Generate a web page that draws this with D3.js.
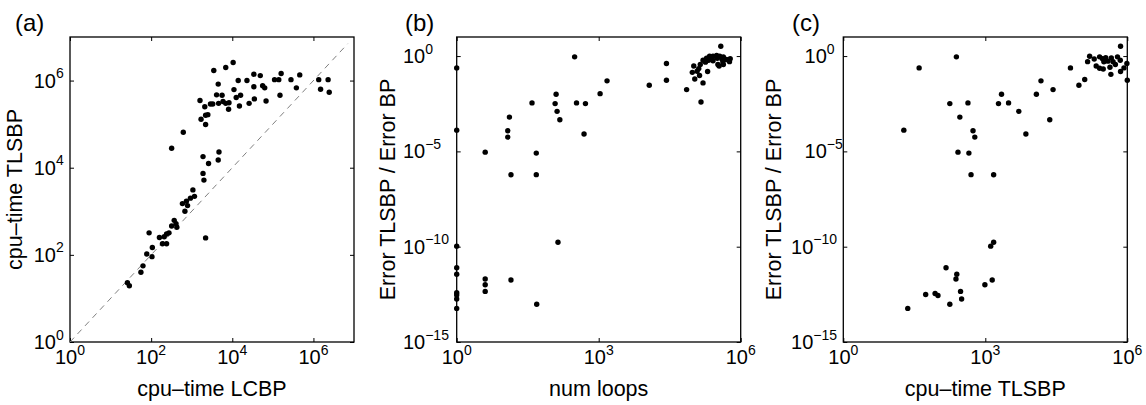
<!DOCTYPE html>
<html>
<head>
<meta charset="utf-8">
<script src="https://cdn.jsdelivr.net/npm/d3@7"></script>
<style>
  body { margin: 0; background: #fff; }
  text { font-family: "Liberation Sans", Arial, Helvetica, sans-serif; fill: #000; }
</style>
</head>
<body>
<div id="chart"></div>
<script>
const WIDTH  = 1146;
const HEIGHT = 405;
const TOP    = 37;
const BOTTOM = 342;

// (a) cpu-time LCBP vs cpu-time TLSBP
const lcbpTime = [3.5e3, 6.9e3, 1.05e4, 4.5e3, 1.4e4, 2.3e4, 3.4e4, 4.9e4, 1.1e4, 3.4e4,
  5.6e4, 6.3e4, 1.1e5, 1.4e5, 1.6e5, 2.8e5, 4.6e5, 3.8e5, 1.5e5, 1.35e6,
  2.3e6, 1.5e6, 2.45e6, 1.6e3, 2.1e3, 2.9e3, 3.3e3, 4.1e3, 4.6e3, 5.6e3,
  5.9e3, 6.9e3, 8.3e3, 8.1e3, 1.25e4, 1.6e4, 1.5e4, 2.6e4, 3.5e4, 6.8e4,
  1.7e3, 2.2e3, 2.5e3, 2.2e3, 620, 320, 1.9e3, 4.7e3, 4.5e3, 2.6e3,
  1.9e3, 2.0e3, 1.07e3, 1.17e3, 930, 740, 590, 790, 680, 370,
  410, 320, 430, 89, 160, 210, 240, 275, 190, 240,
  2.2e3, 107, 78, 105, 63, 56, 26, 29];
const tlsbpTimeA = [1.7e6, 2.0e6, 2.6e6, 8.3e5, 1.0e6, 1.0e6, 1.4e6, 1.3e6, 6.2e5, 7.2e5,
  7.6e5, 6.8e5, 1.05e6, 1.05e6, 1.45e6, 1.05e6, 1.35e6, 6.8e5, 4.6e5, 1.05e6,
  1.05e6, 6.3e5, 5.4e5, 3.5e5, 2.5e5, 2.9e5, 2.9e5, 4.7e5, 3.0e5, 4.6e5,
  3.3e5, 3.0e5, 3.1e5, 2.2e5, 4.1e5, 4.6e5, 2.6e5, 3.0e5, 3.8e5, 3.4e5,
  1.3e5, 1.6e5, 1.65e5, 9.8e4, 6.5e4, 2.8e4, 1.8e4, 2.3e4, 1.5e4, 1.25e4,
  7.4e3, 5.2e3, 3.1e3, 2.2e3, 2.0e3, 1.7e3, 1.5e3, 1.35e3, 1.0e3, 620,
  520, 460, 430, 320, 250, 260, 300, 320, 180, 180,
  245, 148, 105, 91, 56, 40, 23, 19.5];
const diagonal = [1, 7e6];

// (b) num loops vs error ratio
const numLoops = [1, 1, 4, 14, 48, 48, 12, 12, 13, 39,
  120, 126, 132, 151, 310, 340, 525, 490, 1070, 1500,
  1.17e4, 2.7e4, 2.7e4, 1, 1, 1, 1, 1, 1, 1,
  4, 4, 4, 14, 49, 138, 3.8e5, 7.2e4, 1.45e5, 1.07e5,
  1.2e5, 1.02e5, 1.3e5, 1.35e5, 1.6e5, 1.6e5, 1.9e5, 2.2e5, 2.6e5, 3.1e5,
  3.6e5, 4.3e5, 5.0e5, 5.8e5, 4.2e5, 3.5e5, 2.6e5, 2.1e5, 1.8e5, 1.4e5,
  3.3e5, 4.3e5, 9.5e4, 6.0e5, 2.0e5, 2.5e5, 3.2e5, 4.0e5];
const errRatioB = [0.24, 1.3e-4, 9.1e-6, 5.9e-7, 6.0e-7, 8.1e-6, 1.2e-4, 5.6e-5, 6.3e-4, 3.5e-3,
  3.2e-3, 1.0e-2, 1.26e-3, 4.6e-4, 0.91, 3.5e-3, 3.2e-3, 8.1e-5, 1.07e-2, 5.0e-2,
  2.95e-2, 0.41, 5.4e-2, 1.07e-10, 7.8e-12, 3.6e-12, 3.8e-13, 2.9e-13, 1.8e-13, 5.8e-14,
  2.0e-12, 1.0e-12, 4.5e-13, 1.8e-12, 9.5e-14, 1.7e-10, 3.3, 1.74e-2, 3.9e-3, 6.3e-2,
  0.16, 0.30, 0.22, 9.5e-2, 3.9e-2, 0.60, 0.78, 0.98, 0.98, 1.07,
  0.98, 0.91, 0.66, 0.51, 0.51, 0.30, 0.56, 0.60, 0.48, 0.36,
  0.36, 0.36, 0.14, 0.72, 0.155, 0.8, 0.76, 0.7];

// (c) cpu-time TLSBP vs error ratio
const tlsbpTimeC = [40, 245, 19, 178, 430, 290, 550, 600, 265, 450,
  500, 1500, 1900, 2200, 3100, 5100, 7200, 1.2e4, 1.5e4, 2.7e4,
  2.3e4, 6.3e4, 23, 55, 87, 100, 148, 178, 250, 240,
  300, 316, 980, 1300, 1500, 1400, 7.2e5, 9.5e4, 1.26e5, 1.6e5,
  1.45e5, 2.2e5, 2.6e5, 3.1e5, 2.6e5, 3.0e5, 3.5e5, 3.2e5, 4.3e5, 4.5e5,
  5.0e5, 6.2e5, 7.1e5, 7.2e5, 8.5e5, 9.8e5, 1.0e6, 5.6e5, 3.9e5, 2.0e5, 4.6e5];
const errRatioC = [0.24, 0.91, 1.3e-4, 3.2e-3, 3.5e-3, 6.3e-4, 1.2e-4, 5.6e-5, 9.1e-6, 8.1e-6,
  6.0e-7, 5.9e-7, 3.2e-3, 1.0e-2, 3.5e-3, 1.26e-3, 8.1e-5, 1.0e-2, 5.0e-2, 1.74e-2,
  4.6e-4, 0.24, 5.8e-14, 3.1e-13, 3.5e-13, 2.75e-13, 7.8e-12, 9.5e-14, 3.6e-12, 2.0e-12,
  4.5e-13, 1.8e-13, 1.0e-12, 1.07e-10, 1.7e-10, 1.8e-12, 3.3, 2.95e-2, 5.9e-2, 0.98,
  0.51, 0.30, 0.23, 0.21, 0.91, 0.72, 0.81, 0.50, 0.26, 0.11,
  0.50, 0.91, 0.60, 0.155, 0.24, 0.41, 5.4e-2, 0.36, 0.54, 0.7, 0.8];

const ticksTime  = [1, 1e2, 1e4, 1e6];
const ticksLoops = [1, 1e3, 1e6];
const ticksErr   = [1e-15, 1e-10, 1e-5, 1];

const svg = d3.select('#chart').append('svg')
  .attr('width', WIDTH)
  .attr('height', HEIGHT);

function expOf(v) {
  const e = Math.round(Math.log10(v));
  return e < 0 ? '\u2212' + (-e) : String(e);
}

function drawPanel(p) {
  const x = d3.scaleLog().domain(p.xDomain).range([p.left, p.right]);
  const y = d3.scaleLog().domain(p.yDomain).range([BOTTOM, TOP]);
  const g = svg.append('g');

  // tick marks, pointing inward on all four sides
  const sides = [
    [d3.axisBottom(x).tickValues(p.xTicks), 'translate(0,' + BOTTOM + ')'],
    [d3.axisTop(x).tickValues(p.xTicks), 'translate(0,' + TOP + ')'],
    [d3.axisLeft(y).tickValues(p.yTicks), 'translate(' + p.left + ',0)'],
    [d3.axisRight(y).tickValues(p.yTicks), 'translate(' + p.right + ',0)']
  ];
  sides.forEach(([ax, tr]) => {
    const a = g.append('g')
      .attr('transform', tr)
      .call(ax.tickSize(-4).tickFormat(''));
    a.select('.domain').remove();
    a.selectAll('line').attr('stroke', '#000');
  });

  g.append('rect')
    .attr('x', p.left).attr('y', TOP)
    .attr('width', p.right - p.left).attr('height', BOTTOM - TOP)
    .attr('fill', 'none').attr('stroke', '#000').attr('stroke-width', 1.3);

  if (p.diag) {
    g.append('line')
      .attr('x1', x(p.diag[0])).attr('y1', y(p.diag[0]))
      .attr('x2', x(p.diag[1])).attr('y2', y(p.diag[1]))
      .attr('stroke', '#808080').attr('stroke-width', 1)
      .attr('stroke-dasharray', '6,5');
  }

  g.selectAll('circle.pt')
    .data(p.xs.map((v, i) => [v, p.ys[i]]))
    .join('circle')
      .attr('class', 'pt')
      .attr('cx', d => x(d[0]))
      .attr('cy', d => y(d[1]))
      .attr('r', 2.7)
      .attr('fill', '#000');

  // x tick labels: 10 with superscript, centred on the tick
  p.xTicks.forEach(v => {
    const t = g.append('text')
      .attr('x', x(v)).attr('y', 364)
      .attr('text-anchor', 'middle')
      .style('font-size', '20px');
    t.append('tspan').text('10');
    t.append('tspan').attr('dy', -9).style('font-size', '14px').text(expOf(v));
  });

  // y tick labels
  p.yTicks.forEach(v => {
    const e = expOf(v);
    const bx = p.left - (e.length > 2 ? p.yOffLong : p.yOff);
    g.append('text')
      .attr('x', bx).attr('y', y(v) + 7)
      .attr('text-anchor', 'end')
      .style('font-size', '20px')
      .text('10');
    g.append('text')
      .attr('x', bx).attr('y', y(v) - 2.5)
      .style('font-size', '14px')
      .text(e);
  });

  g.append('text')
    .attr('x', (p.left + p.right) / 2).attr('y', 396)
    .attr('text-anchor', 'middle')
    .style('font-size', '21.5px')
    .text(p.xLabel);

  g.append('text')
    .attr('transform', 'translate(' + p.yLabelX + ',' + ((TOP + BOTTOM) / 2) + ') rotate(-90)')
    .attr('text-anchor', 'middle')
    .style('font-size', '21.5px')
    .text(p.yLabel);

  g.append('text')
    .attr('x', p.tagX).attr('y', 31)
    .style('font-size', '24px')
    .text(p.tag);
}

drawPanel({
  left: 70, right: 354,
  xDomain: [1, 1e7], yDomain: [1, 1e7],
  xTicks: ticksTime, yTicks: ticksTime,
  xs: lcbpTime, ys: tlsbpTimeA, diag: diagonal,
  xLabel: 'cpu\u2013time LCBP', yLabel: 'cpu\u2013time TLSBP',
  yLabelX: 22, yOff: 14, yOffLong: 14,
  tag: '(a)', tagX: 15
});

drawPanel({
  left: 456.7, right: 740.7,
  xDomain: [1, 1e6], yDomain: [1e-15, 10],
  xTicks: ticksLoops, yTicks: ticksErr,
  xs: numLoops, ys: errRatioB,
  xLabel: 'num loops', yLabel: 'Error TLSBP / Error BP',
  yLabelX: 395, yOff: 31.5, yOffLong: 31.5,
  tag: '(b)', tagX: 405
});

drawPanel({
  left: 843.3, right: 1127.3,
  xDomain: [1, 1e6], yDomain: [1e-15, 10],
  xTicks: ticksLoops, yTicks: ticksErr,
  xs: tlsbpTimeC, ys: errRatioC,
  xLabel: 'cpu\u2013time TLSBP', yLabel: 'Error TLSBP / Error BP',
  yLabelX: 781, yOff: 16.5, yOffLong: 30,
  tag: '(c)', tagX: 792
});
</script>
</body>
</html>
